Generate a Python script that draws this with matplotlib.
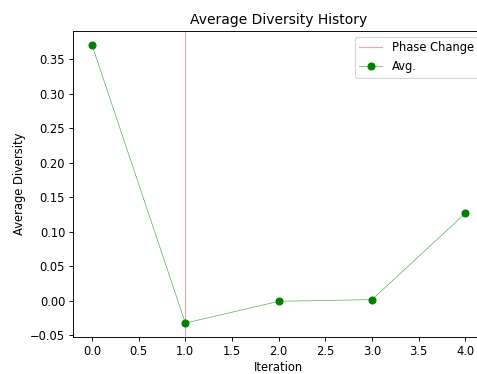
import matplotlib
matplotlib.use("Agg")
import matplotlib.pyplot as plt

# values
iterations = [0, 1, 2, 3, 4]
avg_diversity = [0.371, -0.032, -0.0005, 0.002, 0.127]
phase_changes = [1]

# the reference looks like a slightly downscaled render, so use a lower dpi
DPI = 83
fig = plt.figure(figsize=(477 / DPI, 374 / DPI), dpi=DPI)
ax = fig.add_axes([0.1537, 0.099, 0.861, 0.818])

for i, pc in enumerate(phase_changes):
    ax.axvline(x=pc, color="#e8a8a8", linewidth=1,
               label="Phase Change" if i == 0 else None)

ax.plot(iterations, avg_diversity, color="#55b055", linewidth=0.6,
        marker="o", markersize=6, markerfacecolor="green",
        markeredgecolor="green", label="Avg.")

ax.set_title("Average Diversity History")
ax.set_xlabel("Iteration", labelpad=2.5)
ax.set_ylabel("Average Diversity")
ax.legend(loc="upper right")

fig.savefig("out.png", dpi=DPI)
